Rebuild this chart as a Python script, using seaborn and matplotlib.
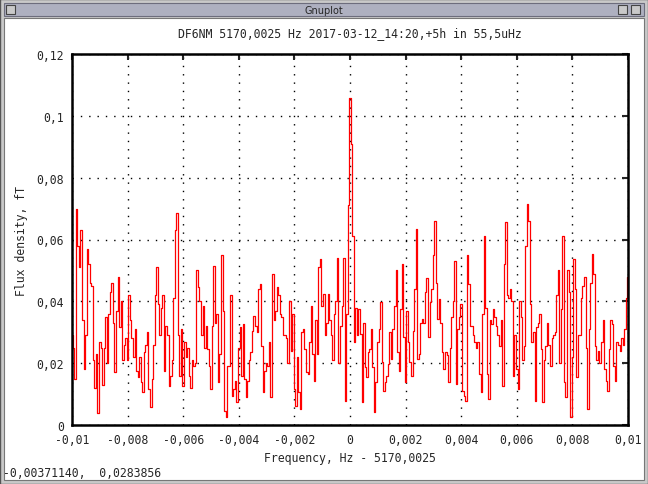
import numpy as np
import pandas as pd
import seaborn as sns
import matplotlib.pyplot as plt
from matplotlib.patches import Rectangle
from matplotlib.ticker import FuncFormatter, MultipleLocator

# flux density per bin (left to right)
flux_a = [0.029, 0.025, 0.015, 0.070, 0.058, 0.051, 0.063, 0.034, 0.018, 0.029,
          0.057, 0.052, 0.046, 0.045, 0.021, 0.012, 0.023, 0.004, 0.027, 0.025,
          0.013, 0.025, 0.035, 0.020, 0.036, 0.043, 0.046, 0.033, 0.017, 0.037,
          0.048, 0.0316, 0.040, 0.021, 0.026, 0.028, 0.021, 0.042, 0.034, 0.028,
          0.022, 0.031, 0.0176, 0.0154, 0.022, 0.0138, 0.0106, 0.0235, 0.026, 0.030,
          0.0116, 0.0057, 0.015, 0.026, 0.042, 0.051, 0.039, 0.029, 0.038, 0.042]
flux_b = [0.0176, 0.032, 0.029, 0.0127, 0.016, 0.021, 0.041, 0.063, 0.0686, 0.029,
          0.016, 0.031, 0.0127, 0.027, 0.022, 0.025, 0.016, 0.012, 0.021, 0.019,
          0.020, 0.050, 0.0445, 0.040, 0.029, 0.0386, 0.025, 0.032, 0.0246, 0.019,
          0.0116, 0.032, 0.0515, 0.033, 0.036, 0.0138, 0.023, 0.055, 0.037, 0.0046,
          0.0025, 0.019, 0.019, 0.042, 0.0095, 0.0116, 0.0143, 0.0073, 0.025, 0.0316,
          0.016, 0.0327, 0.015, 0.009, 0.0143, 0.021, 0.0235, 0.0305, 0.0354, 0.032]
flux_c = [0.030, 0.044, 0.0456, 0.0257, 0.0106, 0.0176, 0.020, 0.019, 0.027, 0.009,
          0.049, 0.034, 0.037, 0.0445, 0.042, 0.036, 0.035, 0.029, 0.029, 0.028,
          0.020, 0.040, 0.024, 0.036, 0.0116, 0.0063, 0.022, 0.0106, 0.0052, 0.030,
          0.031, 0.0246, 0.017, 0.0165, 0.0267, 0.0386, 0.023, 0.0143, 0.034, 0.023,
          0.051, 0.0537, 0.0386, 0.0424, 0.029, 0.033, 0.0424, 0.034, 0.029, 0.021,
          0.036, 0.040, 0.054, 0.020, 0.032, 0.0386, 0.054, 0.0079, 0.036, 0.071]
flux_d = [0.1057, 0.091, 0.061, 0.027, 0.038, 0.029, 0.0375, 0.0294, 0.0073, 0.033,
          0.0187, 0.0154, 0.0235, 0.0246, 0.031, 0.0187, 0.0041, 0.0138, 0.0267, 0.031,
          0.0397, 0.0203, 0.011, 0.0138, 0.016, 0.0197, 0.030, 0.0213, 0.031, 0.0386,
          0.050, 0.0235, 0.0176, 0.0375, 0.052, 0.0284, 0.0138, 0.037, 0.0267, 0.0203,
          0.016, 0.0305, 0.044, 0.0634, 0.0213, 0.023, 0.033, 0.0343, 0.033, 0.043,
          0.0474, 0.0284, 0.0397, 0.044, 0.055, 0.066, 0.046, 0.0343, 0.0408, 0.033,
          0.0235]
flux_e = [0.018, 0.0235, 0.0225, 0.0138, 0.025, 0.035, 0.040, 0.053, 0.0133, 0.031,
          0.035, 0.039, 0.011, 0.0095, 0.0079, 0.055, 0.0456, 0.032, 0.032, 0.029,
          0.027, 0.025, 0.0267, 0.0165, 0.0106, 0.036, 0.061, 0.038, 0.0165, 0.0084,
          0.034, 0.0327, 0.0375, 0.035, 0.032, 0.029, 0.0257, 0.034, 0.0127, 0.052,
          0.0655, 0.042, 0.041, 0.044, 0.040, 0.016, 0.029, 0.018, 0.0116, 0.040,
          0.035, 0.021, 0.0257, 0.058, 0.0715, 0.066, 0.039, 0.0267, 0.030, 0.0079]
flux_f = [0.0316, 0.033, 0.036, 0.0246, 0.0073, 0.021, 0.0257, 0.033, 0.026, 0.019,
          0.028, 0.029, 0.030, 0.042, 0.050, 0.020, 0.0375, 0.061, 0.0138, 0.009,
          0.050, 0.043, 0.0025, 0.022, 0.0537, 0.044, 0.0154, 0.029, 0.029, 0.041,
          0.045, 0.048, 0.025, 0.0052, 0.031, 0.046, 0.0553, 0.049, 0.0257, 0.021,
          0.024, 0.020, 0.0267, 0.034, 0.018, 0.0143, 0.011, 0.0246, 0.034, 0.0327,
          0.019, 0.0143, 0.0267, 0.026, 0.024, 0.028, 0.026, 0.031, 0.041, 0.048]

flux = flux_a + flux_b + flux_c + flux_d + flux_e + flux_f
freq = np.linspace(-0.01, 0.01, len(flux))
df = pd.DataFrame({'freq': freq, 'flux': flux})

title = 'DF6NM 5170,0025 Hz 2017-03-12_14:20,+5h in 55,5uHz'
xlabel = 'Frequency, Hz - 5170,0025'
ylabel = 'Flux density, fT'
status = '-0,00371140,  0,0283856'

sns.set_style('white')
plt.rcParams['font.family'] = ['DejaVu Sans Mono']
W, H = 648, 485
fig = plt.figure(figsize=(W / 100, H / 100), dpi=100)
fig.patch.set_facecolor('white')


def px_rect(x, y, w, h, **kw):
    # rectangle in pixel coords, y from the top, kept behind the axes
    fig.patches.append(Rectangle((x / W, 1 - (y + h) / H), w / W, h / H,
                                 transform=fig.transFigure, zorder=-10, **kw))


# window frame
px_rect(0, 0, W, H, facecolor='#c9c9c9', edgecolor='#555555', lw=1)
px_rect(4, 4, W - 8, 13, facecolor='#aeb0c0', edgecolor='#6d6d7d', lw=0.8)
px_rect(6, 6, 9, 9, facecolor='#c9c9c9', edgecolor='#444444', lw=0.8)
px_rect(618, 6, 9, 9, facecolor='#c9c9c9', edgecolor='#444444', lw=0.8)
px_rect(631, 6, 9, 9, facecolor='#c9c9c9', edgecolor='#444444', lw=0.8)
px_rect(4, 19, W - 8, H - 23, facecolor='white', edgecolor='#777777', lw=0.8)
fig.text(0.5, 1 - 11 / H, 'Gnuplot', ha='center', va='center', fontsize=7,
         family='DejaVu Sans')

ax = fig.add_axes([72 / W, (H - 426) / H, 556 / W, 371 / H])
ax.set_zorder(5)
sns.lineplot(data=df, x='freq', y='flux', ax=ax, color='red', lw=0.9,
             drawstyle='steps-mid', estimator=None, sort=False)

ax.set_xlim(-0.01, 0.01)
ax.set_ylim(0, 0.12)
ax.xaxis.set_major_locator(MultipleLocator(0.002))
ax.yaxis.set_major_locator(MultipleLocator(0.02))
comma = FuncFormatter(lambda v, p: ('%g' % round(v, 6)).replace('.', ','))
ax.xaxis.set_major_formatter(comma)
ax.yaxis.set_major_formatter(comma)
ax.grid(True, color='black', linestyle=(0, (1, 5)), lw=1)
ax.tick_params(direction='in', length=4, width=1.5, top=True, right=True,
               labelsize=8.3, pad=6)
for s in ax.spines.values():
    s.set_linewidth(1.8)
    s.set_color('black')

ax.set_title(title, fontsize=8.3, pad=13)
ax.set_xlabel(xlabel, fontsize=8.3)
ax.set_ylabel(ylabel, fontsize=8.3)
ax.xaxis.set_label_coords(0.5, -(452 - 426) / 371)
ax.yaxis.set_label_coords(-(72 - 28) / 556, 0.5)

fig.text(3 / W, 1 - 474 / H, status, ha='left', va='center', fontsize=8.3)

fig.savefig('out.png', dpi=100)
